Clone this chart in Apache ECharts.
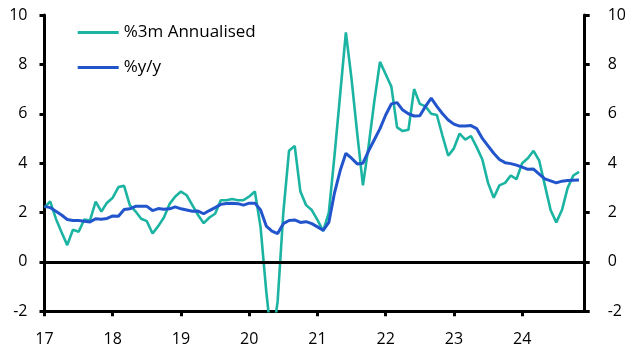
<!DOCTYPE html>
<html>
<head>
<meta charset="utf-8">
<script src="https://cdn.jsdelivr.net/npm/echarts@6/dist/echarts.min.js"></script>
<style>
html,body{margin:0;padding:0;background:#fff;}
#chart{width:629px;height:355px;}
</style>
</head>
<body>
<div id="chart"></div>
<script>
// Monthly categories Jan 2017 .. Dec 2024
const categories = [];
for (let y = 2017; y <= 2024; y++) {
  for (let m = 1; m <= 12; m++) categories.push(y + '-' + (m < 10 ? '0' + m : m));
}
const yTicks = { min: -2, max: 10, interval: 2 };

const seriesNames = ['%3m Annualised', '%y/y'];

const annualised3m = [
  2.2, 2.45, 1.75, 1.2, 0.68, 1.3, 1.22, 1.72, 1.68, 2.44, 2.04, 2.4,
  2.6, 3.03, 3.08, 2.3, 2.05, 1.75, 1.65, 1.15, 1.45, 1.8, 2.35, 2.65,
  2.85, 2.7, 2.3, 1.9, 1.57, 1.8, 1.95, 2.5, 2.5, 2.55, 2.5, 2.5,
  2.65, 2.85, 1.4, -1.2, -3.3, -1.6, 2.0, 4.5, 4.7, 2.85, 2.3, 2.1,
  1.7, 1.25, 2.0, 4.3, 6.8, 9.3, 7.4, 5.2, 3.1, 4.7, 6.5, 8.1,
  7.6, 7.1, 5.45, 5.3, 5.35, 7.0, 6.4, 6.3, 6.0, 5.95, 5.1, 4.3,
  4.6, 5.2, 4.95, 5.1, 4.65, 4.15, 3.2, 2.6, 3.1, 3.2, 3.5, 3.35,
  4.0, 4.2, 4.5, 4.1, 3.1, 2.1, 1.6, 2.1, 3.0, 3.5, 3.65
];

const yoy = [
  2.25, 2.2, 2.05, 1.9, 1.72, 1.68, 1.68, 1.65, 1.62, 1.75, 1.73, 1.76,
  1.86, 1.85, 2.12, 2.15, 2.25, 2.25, 2.25, 2.08, 2.16, 2.13, 2.15, 2.23,
  2.15, 2.1, 2.05, 2.06, 1.95, 2.08, 2.2, 2.33, 2.37, 2.38, 2.36, 2.3,
  2.38, 2.38, 2.1, 1.45, 1.25, 1.15, 1.55, 1.68, 1.7, 1.6, 1.63, 1.55,
  1.42, 1.28, 1.6, 2.8, 3.7, 4.4, 4.2, 3.97, 4.0, 4.5, 4.95, 5.4,
  5.95, 6.4, 6.45, 6.15, 6.0, 5.91, 5.92, 6.3, 6.63, 6.3, 6.0, 5.75,
  5.58, 5.5, 5.5, 5.52, 5.4, 5.0, 4.7, 4.4, 4.15, 4.02, 3.98, 3.92,
  3.84, 3.75, 3.76, 3.56, 3.36, 3.28, 3.2, 3.27, 3.3, 3.31, 3.32
];

const FONT = 'Open Sans';
const CYAN = '#1bb4a2';
const BLUE = '#2255cc';
const isJan = (i) => i % 12 === 0;

function yAxisDef(pos, margin) {
  return {
    type: 'value', position: pos,
    min: yTicks.min, max: yTicks.max, interval: yTicks.interval,
    splitLine: { show: false },
    axisLine: { show: true, lineStyle: { color: '#000', width: 3 } },
    axisTick: { show: true, length: 5, lineStyle: { color: '#000', width: 3 } },
    axisLabel: { color: '#000', fontSize: 16, fontFamily: FONT, margin: margin }
  };
}

const chart = echarts.init(document.getElementById('chart'), null, { renderer: 'canvas' });
chart.setOption({
  animation: false,
  backgroundColor: '#fff',
  grid: { left: 44.5, right: 43, top: 15, bottom: 43.7, containLabel: false },
  legend: {
    show: true,
    orient: 'vertical',
    left: 77.7, top: 23.5, padding: 0,
    itemWidth: 41, itemHeight: 3, itemGap: 17,
    textStyle: { color: '#000', fontSize: 17, fontFamily: FONT, lineHeight: 18 },
    data: seriesNames.map((n) => ({ name: n, icon: 'rect' }))
  },
  xAxis: {
    type: 'category',
    data: categories,
    boundaryGap: false,
    axisLine: { show: true, onZero: false, lineStyle: { color: '#000', width: 3 } },
    axisTick: { show: true, length: 5, interval: (i) => isJan(i), lineStyle: { color: '#000', width: 3 } },
    axisLabel: {
      color: '#000', fontSize: 16, fontFamily: FONT, margin: 20,
      interval: (i) => isJan(i),
      formatter: (v) => v.slice(2, 4)
    },
    splitLine: { show: false }
  },
  yAxis: [ yAxisDef('left', 17), yAxisDef('right', 23) ],
  series: [
    {
      name: seriesNames[0], type: 'line', data: annualised3m,
      showSymbol: false, symbol: 'none', clip: true,
      lineStyle: { color: CYAN, width: 2.6 },
      itemStyle: { color: CYAN },
      z: 2,
      markLine: {
        silent: true, symbol: ['none', 'none'], label: { show: false },
        lineStyle: { color: '#000', width: 3, type: 'solid' },
        data: [{ yAxis: 0 }],
        z: 5
      }
    },
    {
      name: seriesNames[1], type: 'line', data: yoy,
      showSymbol: false, symbol: 'none', clip: true,
      lineStyle: { color: BLUE, width: 3 },
      itemStyle: { color: BLUE },
      z: 3
    }
  ]
});
</script>
</body>
</html>
